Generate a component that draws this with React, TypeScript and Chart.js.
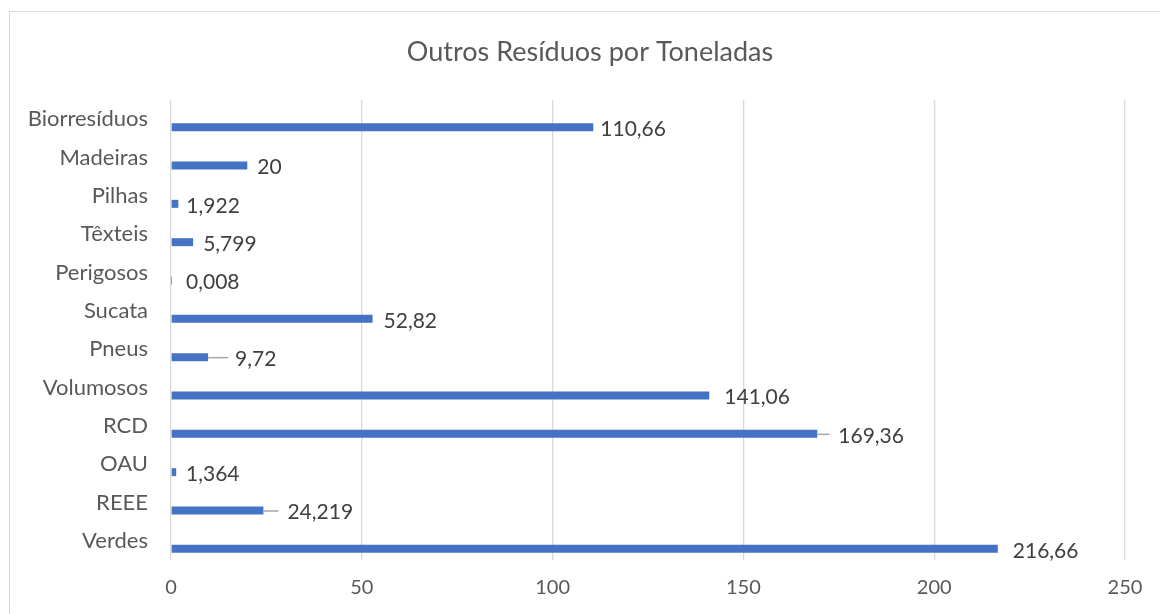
import { useEffect, useRef } from 'react';
import { Chart, registerables } from 'chart.js';

Chart.register(...registerables);

const TITLE = 'Outros Resíduos por Toneladas';
const categories = ['Biorresíduos', 'Madeiras', 'Pilhas', 'Têxteis', 'Perigosos', 'Sucata', 'Pneus', 'Volumosos', 'RCD', 'OAU', 'REEE', 'Verdes'];
const values = [110.66, 20, 1.922, 5.799, 0.008, 52.82, 9.72, 141.06, 169.36, 1.364, 24.219, 216.66];
const xTicks = [0, 50, 100, 150, 200, 250];

const FONT = 'Lato, "Open Sans", sans-serif';
const W = 1160;
const H = 614;

const fmt = (v: number) => String(v).replace('.', ',');

const framePlugin = {
  id: 'frame',
  beforeDraw(chart: any) {
    const ctx = chart.ctx;
    ctx.save();
    ctx.fillStyle = '#ffffff';
    ctx.fillRect(0, 0, W, H);
    ctx.strokeStyle = '#D9D9D9';
    ctx.lineWidth = 1;
    ctx.strokeRect(9.5, 11.5, 1300, 800);
    ctx.fillStyle = '#595959';
    ctx.font = `27px ${FONT}`;
    ctx.textAlign = 'center';
    ctx.textBaseline = 'alphabetic';
    ctx.fillText(TITLE, 590, 61);
    ctx.restore();
  },
};

const labelPlugin = {
  id: 'barLabels',
  afterDatasetsDraw(chart: any, _args: any, opts: any) {
    const meta = chart.getDatasetMeta(1);
    const ctx = chart.ctx;
    const left = chart.chartArea.left;
    ctx.save();
    ctx.font = `21px ${FONT}`;
    ctx.fillStyle = '#404040';
    ctx.textBaseline = 'middle';
    ctx.textAlign = 'left';
    meta.data.forEach((el: any, i: number) => {
      const cat = categories[i];
      const end = el.x;
      const y = el.y;
      let x: number;
      const leader = opts.leaders[cat];
      if (leader) {
        ctx.save();
        ctx.strokeStyle = '#A6A6A6';
        ctx.lineWidth = 1.5;
        ctx.beginPath();
        ctx.moveTo(end, y + 0.5);
        ctx.lineTo(end + leader[0], y + 0.5);
        ctx.stroke();
        ctx.restore();
        x = end + leader[0] + leader[1];
      } else {
        const gap = opts.gaps[cat] ?? opts.gap;
        x = Math.max(end + gap, left + opts.minOffset);
      }
      ctx.fillText(fmt(values[i]), x, y + 2);
    });
    ctx.restore();
  },
};

export default function App() {
  const ref = useRef<HTMLCanvasElement | null>(null);

  useEffect(() => {
    document.body.style.margin = '0';
    const canvas = ref.current;
    if (!canvas) return;
    Chart.defaults.font.family = FONT;
    const chart = new Chart(canvas, {
      type: 'bar',
      data: {
        labels: categories,
        datasets: [
          {
            label: 'spacer',
            data: categories.map(() => null),
            backgroundColor: 'rgba(0,0,0,0)',
            categoryPercentage: 0.835,
            barPercentage: 0.5,
          },
          {
            label: 'Toneladas',
            data: values,
            backgroundColor: '#4472C4',
            categoryPercentage: 0.835,
            barPercentage: 0.5,
          },
        ],
      },
      options: {
        indexAxis: 'y',
        responsive: false,
        animation: false,
        events: [],
        layout: { padding: { top: 100, right: 35, bottom: 0, left: 0 } },
        plugins: {
          legend: { display: false },
          title: { display: false },
          tooltip: { enabled: false },
          barLabels: {
            gap: 10,
            minOffset: 15,
            gaps: {
              'Biorresíduos': 7,
              'Madeiras': 10,
              'Pilhas': 8,
              'Têxteis': 10,
              'Sucata': 11,
              'Volumosos': 15,
              'OAU': 9.5,
              'Verdes': 15,
            },
            leaders: {
              'Pneus': [20, 7],
              'RCD': [12, 9],
              'REEE': [15, 9],
            },
          },
        } as any,
        scales: {
          x: {
            min: 0,
            max: 250,
            afterBuildTicks: (scale: any) => {
              scale.ticks = xTicks.map((v) => ({ value: v }));
            },
            afterFit: (scale: any) => {
              scale.height = 54;
            },
            grid: { color: '#D9D9D9', lineWidth: 1.3, drawTicks: false },
            border: { display: false },
            ticks: { color: '#595959', font: { size: 20 }, padding: 16 },
          },
          y: {
            afterFit: (scale: any) => {
              scale.width = 171;
            },
            grid: { display: false, drawTicks: false },
            border: { display: false },
            ticks: { color: '#595959', font: { size: 22 }, padding: 23 },
          },
        },
      },
      plugins: [framePlugin, labelPlugin],
    });
    return () => chart.destroy();
  }, []);

  return (
    <div style={{ position: 'absolute', left: 0, top: 0, width: W, height: H }}>
      <canvas ref={ref} width={W} height={H} style={{ width: W, height: H, display: 'block' }} />
    </div>
  );
}
